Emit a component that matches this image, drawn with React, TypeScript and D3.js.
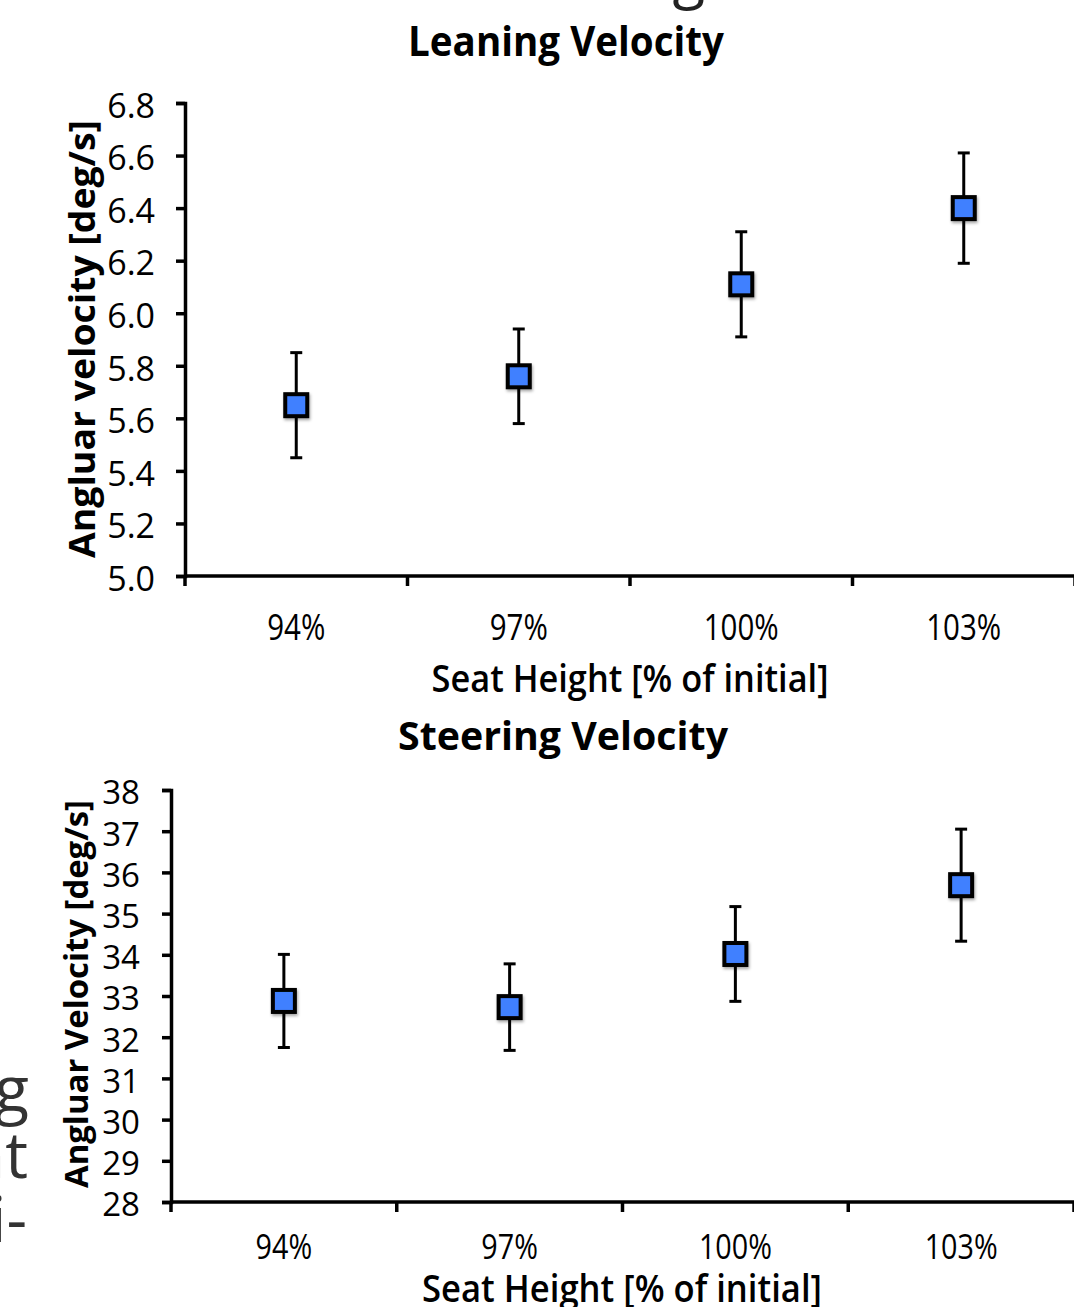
import React, { useEffect, useRef } from "react";
import * as d3 from "d3";

const categories = ["94%", "97%", "100%", "103%"];

// leaning velocity [deg/s]
const leaningMean = [5.65, 5.76, 6.11, 6.4];
const leaningErr = [0.2, 0.18, 0.2, 0.21];
const leaningTicks = [5.0, 5.2, 5.4, 5.6, 5.8, 6.0, 6.2, 6.4, 6.6, 6.8];

// steering velocity [deg/s]
const steeringMean = [32.88, 32.73, 34.02, 35.69];
const steeringErr = [1.13, 1.05, 1.15, 1.36];
const steeringTicks = [28, 29, 30, 31, 32, 33, 34, 35, 36, 37, 38];

const FONT = "'Open Sans', 'DejaVu Sans', sans-serif";
const BLUE = "#4080ff";

function drawPanel(svg: any, p: any) {
  const x = d3.scaleBand().domain(categories).range([p.left, p.right]);
  const y = d3.scaleLinear().domain(p.domain).range([p.bottom, p.top]);
  const g = svg.append("g").attr("font-family", FONT);
  const pts = categories.map((c, i) => ({ c, m: p.mean[i], e: p.err[i] }));

  // title
  g.append("text")
    .attr("x", p.titleX)
    .attr("y", p.titleY)
    .attr("text-anchor", "middle")
    .attr("font-size", p.titleSize)
    .attr("font-weight", 700)
    .attr("textLength", p.titleLen)
    .attr("lengthAdjust", "spacingAndGlyphs")
    .text(p.title);

  // y axis
  const yAxis = g
    .append("g")
    .attr("transform", `translate(${p.left},0)`)
    .call(
      d3
        .axisLeft(y)
        .tickValues(p.ticks)
        .tickFormat(p.fmt)
        .tickSize(9)
        .tickSizeOuter(9)
        .tickPadding(p.pad)
    );
  yAxis.select(".domain").attr("stroke", "#000").attr("stroke-width", 3.5);
  yAxis.selectAll(".tick line").attr("stroke", "#000").attr("stroke-width", 3.5);
  yAxis
    .selectAll(".tick text")
    .attr("font-family", FONT)
    .attr("font-size", p.tickFont)
    .attr("fill", "#000")
    .attr("dy", "0.42em");

  // x axis (ticks sit on the category boundaries)
  const bounds = d3.range(categories.length + 1).map(i => p.left + i * x.step());
  g.append("line")
    .attr("x1", p.left)
    .attr("x2", p.right)
    .attr("y1", p.bottom)
    .attr("y2", p.bottom)
    .attr("stroke", "#000")
    .attr("stroke-width", 3.5);
  g.selectAll(".xtick")
    .data(bounds)
    .enter()
    .append("line")
    .attr("x1", d => d)
    .attr("x2", d => d)
    .attr("y1", p.bottom)
    .attr("y2", p.bottom + 10)
    .attr("stroke", "#000")
    .attr("stroke-width", 3.5);
  g.selectAll(".xlab")
    .data(categories)
    .enter()
    .append("text")
    .attr(
      "transform",
      d => `translate(${x(d)! + x.bandwidth() / 2},${p.bottom + p.xLabOff}) scale(0.82,1)`
    )
    .attr("text-anchor", "middle")
    .attr("font-size", p.xLabFont)
    .text(d => d);

  // axis titles
  g.append("text")
    .attr("x", p.xTitleX)
    .attr("y", p.xTitleY)
    .attr("text-anchor", "middle")
    .attr("font-size", p.xTitleSize)
    .attr("font-weight", 600)
    .attr("textLength", p.xTitleLen)
    .attr("lengthAdjust", "spacingAndGlyphs")
    .text("Seat Height [% of initial]");
  g.append("text")
    .attr("transform", `translate(${p.yTitleX},${p.yTitleY}) rotate(-90)`)
    .attr("text-anchor", "middle")
    .attr("font-size", p.yTitleSize)
    .attr("font-weight", 700)
    .attr("textLength", p.yTitleLen)
    .attr("lengthAdjust", "spacingAndGlyphs")
    .text(p.yTitle);

  // error bars
  const cx = (d: any) => x(d.c)! + x.bandwidth() / 2;
  const eb = g.selectAll(".eb").data(pts).enter().append("g");
  eb.append("line")
    .attr("x1", cx)
    .attr("x2", cx)
    .attr("y1", d => y(d.m - d.e))
    .attr("y2", d => y(d.m + d.e))
    .attr("stroke", "#000")
    .attr("stroke-width", 3);
  [1, -1].forEach(s => {
    eb.append("line")
      .attr("x1", d => cx(d) - 6)
      .attr("x2", d => cx(d) + 6)
      .attr("y1", d => y(d.m + s * d.e))
      .attr("y2", d => y(d.m + s * d.e))
      .attr("stroke", "#000")
      .attr("stroke-width", 3);
  });

  // markers
  g.selectAll(".mk")
    .data(pts)
    .enter()
    .append("rect")
    .attr("x", d => cx(d) - 11)
    .attr("y", d => y(d.m) - 11)
    .attr("width", 22)
    .attr("height", 22)
    .attr("fill", BLUE)
    .attr("stroke", "#000")
    .attr("stroke-width", 4)
    .attr("filter", "url(#shadow)");
}

export default function App() {
  const ref = useRef<SVGSVGElement>(null);

  useEffect(() => {
    const svg = d3.select(ref.current);
    svg.selectAll("*").remove();

    const f = svg
      .append("defs")
      .append("filter")
      .attr("id", "shadow")
      .attr("x", "-40%")
      .attr("y", "-40%")
      .attr("width", "180%")
      .attr("height", "180%");
    f.append("feDropShadow")
      .attr("dx", 1)
      .attr("dy", 2)
      .attr("stdDeviation", 1.5)
      .attr("flood-color", "#000")
      .attr("flood-opacity", 0.35);

    // bits of the slide around the charts
    svg.append("text")
      .attr("x", 705)
      .attr("y", -3)
      .attr("text-anchor", "end")
      .attr("font-family", FONT)
      .attr("font-size", 60)
      .attr("fill", "#222")
      .text("Leaning");
    const side = svg
      .append("g")
      .attr("font-family", FONT)
      .attr("font-size", 64)
      .attr("fill", "#333")
      .attr("text-anchor", "end");
    side.append("text").attr("x", 29).attr("y", 1112).text("Steering");
    side.append("text").attr("x", 28).attr("y", 1178).text("Height");
    side.append("text").attr("x", 27).attr("y", 1242).text("Multi-");

    drawPanel(svg, {
      title: "Leaning Velocity",
      titleX: 566,
      titleY: 56,
      titleSize: 41,
      titleLen: 316,
      left: 185,
      right: 1075,
      top: 103,
      bottom: 576,
      domain: [5.0, 6.8],
      ticks: leaningTicks,
      fmt: d3.format(".1f"),
      pad: 21,
      tickFont: 34,
      mean: leaningMean,
      err: leaningErr,
      xLabOff: 64,
      xLabFont: 36,
      xTitleX: 630,
      xTitleY: 692,
      xTitleSize: 37,
      xTitleLen: 397,
      yTitle: "Angluar velocity [deg/s]",
      yTitleX: 95,
      yTitleY: 339,
      yTitleSize: 35,
      yTitleLen: 438,
    });

    drawPanel(svg, {
      title: "Steering Velocity",
      titleX: 563,
      titleY: 750,
      titleSize: 40,
      titleLen: 330,
      left: 171,
      right: 1074,
      top: 790,
      bottom: 1202,
      domain: [28, 38],
      ticks: steeringTicks,
      fmt: d3.format("d"),
      pad: 22,
      tickFont: 33,
      mean: steeringMean,
      err: steeringErr,
      xLabOff: 57,
      xLabFont: 35,
      xTitleX: 622,
      xTitleY: 1302,
      xTitleSize: 37,
      xTitleLen: 400,
      yTitle: "Angluar Velocity [deg/s]",
      yTitleX: 88,
      yTitleY: 994,
      yTitleSize: 32,
      yTitleLen: 388,
    });
  }, []);

  return (
    <svg
      ref={ref}
      width={1074}
      height={1307}
      style={{ position: "absolute", left: 0, top: 0, background: "#fff" }}
    />
  );
}
